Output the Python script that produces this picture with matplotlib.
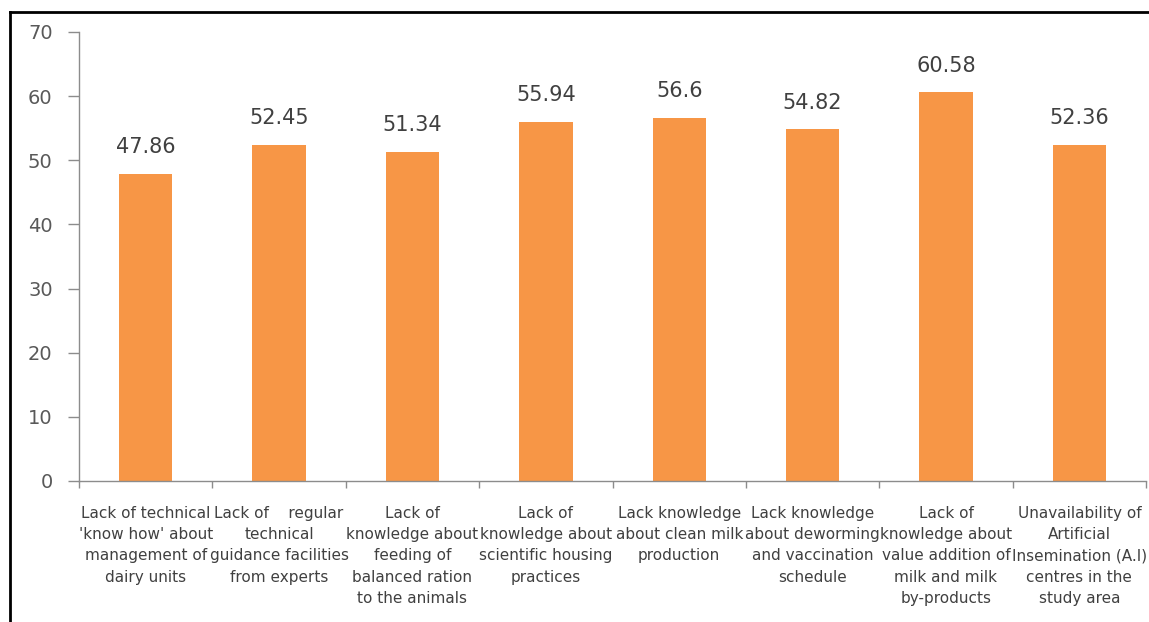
import matplotlib.pyplot as plt
from matplotlib.lines import Line2D
import numpy as np

CATEGORIES = [
    "Lack of technical\n'know how' about\nmanagement of\ndairy units",
    "Lack of    regular\ntechnical\nguidance facilities\nfrom experts",
    "Lack of\nknowledge about\nfeeding of\nbalanced ration\nto the animals",
    "Lack of\nknowledge about\nscientific housing\npractices",
    "Lack knowledge\nabout clean milk\nproduction",
    "Lack knowledge\nabout deworming\nand vaccination\nschedule",
    "Lack of\nknowledge about\nvalue addition of\nmilk and milk\nby-products",
    "Unavailability of\nArtificial\nInsemination (A.I)\ncentres in the\nstudy area",
]
VALUES = [47.86, 52.45, 51.34, 55.94, 56.6, 54.82, 60.58, 52.36]
VALUE_LABELS = ["47.86", "52.45", "51.34", "55.94", "56.6", "54.82", "60.58", "52.36"]
Y_TICKS = [0, 10, 20, 30, 40, 50, 60, 70]

BAR_COLOR = "#F79646"
AXIS_COLOR = "#8C8C8C"
TEXT_COLOR = "#404040"


def main():
    fig = plt.figure(figsize=(11.49, 6.22), dpi=100)
    ax = fig.add_axes([0.0688, 0.2267, 0.9286, 0.7219])

    x = np.arange(len(VALUES))
    ax.bar(x, VALUES, width=0.4, color=BAR_COLOR, zorder=2)

    for xi, v, lab in zip(x, VALUES, VALUE_LABELS):
        ax.annotate(lab, (xi, v), xytext=(0, 12), textcoords="offset points",
                    ha="center", va="bottom", fontsize=15, color=TEXT_COLOR)

    ax.set_xlim(-0.5, len(VALUES) - 0.5)
    ax.set_ylim(0, 70)
    ax.set_yticks(Y_TICKS)
    ax.tick_params(axis="y", labelsize=14, labelcolor="#595959", color=AXIS_COLOR,
                   length=8, width=1, pad=11)

    # boundaries get the tick marks, centres get the category text
    ax.set_xticks(np.arange(len(VALUES) + 1) - 0.5)
    ax.set_xticklabels([])
    ax.tick_params(axis="x", which="major", color=AXIS_COLOR, length=5, width=1)
    ax.set_xticks(x, minor=True)
    ax.set_xticklabels(CATEGORIES, minor=True, fontsize=11, color=TEXT_COLOR,
                       linespacing=1.52, va="top", ha="center")
    ax.tick_params(axis="x", which="minor", length=0, pad=18)

    for side in ("top", "right"):
        ax.spines[side].set_visible(False)
    for side in ("left", "bottom"):
        ax.spines[side].set_color(AXIS_COLOR)
        ax.spines[side].set_linewidth(1)

    # black frame along the top and left edges
    fig.add_artist(Line2D([10 / 1149, 1.0], [1 - 12 / 622, 1 - 12 / 622],
                          transform=fig.transFigure, color="black", linewidth=2))
    fig.add_artist(Line2D([10 / 1149, 10 / 1149], [0.0, 1 - 12 / 622],
                          transform=fig.transFigure, color="black", linewidth=2))

    fig.savefig("out.png", dpi=100, facecolor="white")
    plt.close(fig)


if __name__ == "__main__":
    main()
